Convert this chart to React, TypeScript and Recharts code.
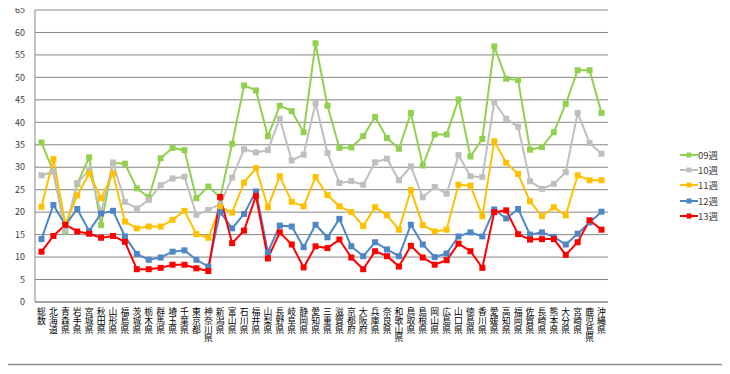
import { CartesianGrid, Customized, Legend, Line, LineChart, XAxis, YAxis } from "recharts";

const prefectures = [
  "総数", "北海道", "青森県", "岩手県", "宮城県", "秋田県", "山形県", "福島県",
  "茨城県", "栃木県", "群馬県", "埼玉県", "千葉県", "東京都", "神奈川県", "新潟県",
  "富山県", "石川県", "福井県", "山梨県", "長野県", "岐阜県", "静岡県", "愛知県",
  "三重県", "滋賀県", "京都府", "大阪府", "兵庫県", "奈良県", "和歌山県", "鳥取県",
  "島根県", "岡山県", "広島県", "山口県", "徳島県", "香川県", "愛媛県", "高知県",
  "福岡県", "佐賀県", "長崎県", "熊本県", "大分県", "宮崎県", "鹿児島県", "沖縄県",
];

const week09 = [
  35.5, 29, 15.7, 26.3, 32.2, 17.1, 31, 30.8, 25.3, 23.3, 32, 34.3, 33.8, 23.1, 25.7, 23.3,
  35.2, 48.2, 47.1, 36.9, 43.7, 42.5, 37.8, 57.6, 43.7, 34.3, 34.4, 36.9, 41.2, 36.5, 34.1, 42.1,
  30.4, 37.3, 37.3, 45.1, 32.4, 36.3, 56.9, 49.7, 49.4, 33.9, 34.5, 37.8, 44.1, 51.6, 51.6, 42.1,
];
const week10 = [
  28.2, 29, 16, 26.5, 29.4, 20, 31, 22.3, 20.8, 22.7, 26, 27.5, 27.9, 19.4, 20.5, 21.8,
  27.7, 34, 33.3, 33.8, 40.8, 31.5, 32.8, 44.3, 33.2, 26.5, 26.9, 26.1, 31.1, 31.9, 27.1, 30.2,
  23.3, 25.6, 24.1, 32.7, 28, 27.8, 44.5, 40.8, 39, 26.9, 25.2, 26.3, 28.9, 42.1, 35.4, 33,
];
const week11 = [
  21.2, 31.8, 17.3, 23.7, 28.6, 23.1, 28.6, 17.9, 16.4, 16.8, 16.8, 18.3, 20.3, 15.1, 14.3, 21.2,
  19.9, 26.6, 29.8, 21.1, 28, 22.3, 21.3, 27.8, 23.8, 21.3, 20, 16.9, 21.1, 19.3, 16.1, 24.9,
  17.1, 15.7, 16.1, 26.1, 25.9, 19.1, 35.8, 31, 28.5, 22.4, 19.1, 21.1, 19.3, 28.2, 27.1, 27.1,
];
const week12 = [
  14, 21.6, 17.1, 20.7, 15.8, 19.7, 20.3, 14.6, 10.7, 9.4, 9.9, 11.2, 11.5, 9.4, 7.9, 20,
  16.4, 19.6, 24.6, 11.1, 17, 16.8, 12.2, 17.2, 14.4, 18.5, 12.4, 10.2, 13.3, 11.7, 10.2, 17.2,
  12.8, 10, 10.8, 14.6, 15.5, 14.6, 20.6, 18.6, 20.7, 15, 15.5, 14.5, 12.8, 15.2, 17.7, 20.1,
];
const week13 = [
  11.2, 14.7, 17.2, 15.7, 15.2, 14.3, 14.7, 13.4, 7.3, 7.3, 7.6, 8.3, 8.3, 7.5, 6.9, 23.4,
  13.1, 15.9, 23.6, 9.7, 15.5, 12.8, 7.7, 12.4, 12, 13.9, 9.9, 7.3, 11.3, 10.2, 7.9, 12.5,
  9.9, 8.3, 9.3, 13, 11.3, 7.6, 20, 20.4, 15.1, 13.9, 14, 14, 10.5, 13.3, 18.2, 16.1,
];
const yTicks = [0, 5, 10, 15, 20, 25, 30, 35, 40, 45, 50, 55, 60, 65];

const series = [
  { key: "w09", name: "09週", color: "#92D050" },
  { key: "w10", name: "10週", color: "#BFBFBF" },
  { key: "w11", name: "11週", color: "#FFC000" },
  { key: "w12", name: "12週", color: "#4F86C6" },
  { key: "w13", name: "13週", color: "#FF0000" },
];

const data = prefectures.map((name, i) => ({
  name,
  w09: week09[i],
  w10: week10[i],
  w11: week11[i],
  w12: week12[i],
  w13: week13[i],
}));

const font = '"Noto Sans CJK JP", "Noto Sans", sans-serif';

function SquareDot(props: any) {
  const { cx, cy, stroke } = props;
  if (cx == null || cy == null) return null;
  return <rect x={cx - 3} y={cy - 3} width={6} height={6} fill={stroke} />;
}

// stacked label: one character per row
function VerticalTick(props: any) {
  const { x, y, payload } = props;
  const chars = Array.from(String(payload.value));
  return (
    <g>
      {chars.map((c, i) => (
        <text
          key={i}
          x={x}
          y={y + 10 + i * 8.8}
          textAnchor="middle"
          fontSize={8.8}
          fontFamily={'"Liberation Sans", "Noto Sans CJK JP", sans-serif'}
          fill="#000"
        >
          {c}
        </text>
      ))}
    </g>
  );
}

// outer frame round the whole chart
function Frame() {
  return <rect x={6.5} y={4.5} width={717} height={360} fill="none" stroke="#8c8c8c" strokeWidth={1.5} />;
}

function LegendBox(props: any) {
  const items = props.payload || [];
  return (
    <div style={{ fontFamily: font, fontSize: 9.5, color: "#404040" }}>
      {items.map((item: any) => (
        <div key={item.value} style={{ display: "flex", alignItems: "center", height: 15.4 }}>
          <svg width={18} height={8}>
            <line x1={0} y1={4} x2={18} y2={4} stroke={item.color} strokeWidth={2} />
            <rect x={6.5} y={1.5} width={5} height={5} fill={item.color} />
          </svg>
          <span>{item.value}</span>
        </div>
      ))}
    </div>
  );
}

export default function App() {
  return (
    <div style={{ position: "relative", width: 730, height: 374, marginLeft: -8, marginTop: -8, background: "#fff" }}>
      <LineChart
        width={730}
        height={374}
        data={data}
        margin={{ top: 10, right: 74, bottom: 0, left: 5 }}
      >
        <Customized component={Frame} />
        <CartesianGrid vertical={false} stroke="#868686" strokeWidth={1} />
        <XAxis
          dataKey="name"
          interval={0}
          padding={{ left: 6.5, right: 6.5 }}
          axisLine={{ stroke: "#868686" }}
          tickLine={false}
          tickSize={0}
          tickMargin={3}
          height={72}
          tick={<VerticalTick />}
        />
        <YAxis
          domain={[0, 65]}
          ticks={yTicks}
          interval={0}
          width={30}
          axisLine={{ stroke: "#868686" }}
          tickLine={false}
          tickSize={0}
          tickMargin={10}
          tick={{ fontSize: 9, fill: "#404040", fontFamily: font }}
        />
        <Legend
          layout="vertical"
          verticalAlign="top"
          align="right"
          wrapperStyle={{ left: 680, top: 147, width: 48 }}
          content={<LegendBox />}
        />
        {series.map((s) => (
          <Line
            key={s.key}
            dataKey={s.key}
            name={s.name}
            stroke={s.color}
            strokeWidth={2}
            dot={<SquareDot />}
            activeDot={false}
            isAnimationActive={false}
          />
        ))}
      </LineChart>
    </div>
  );
}
